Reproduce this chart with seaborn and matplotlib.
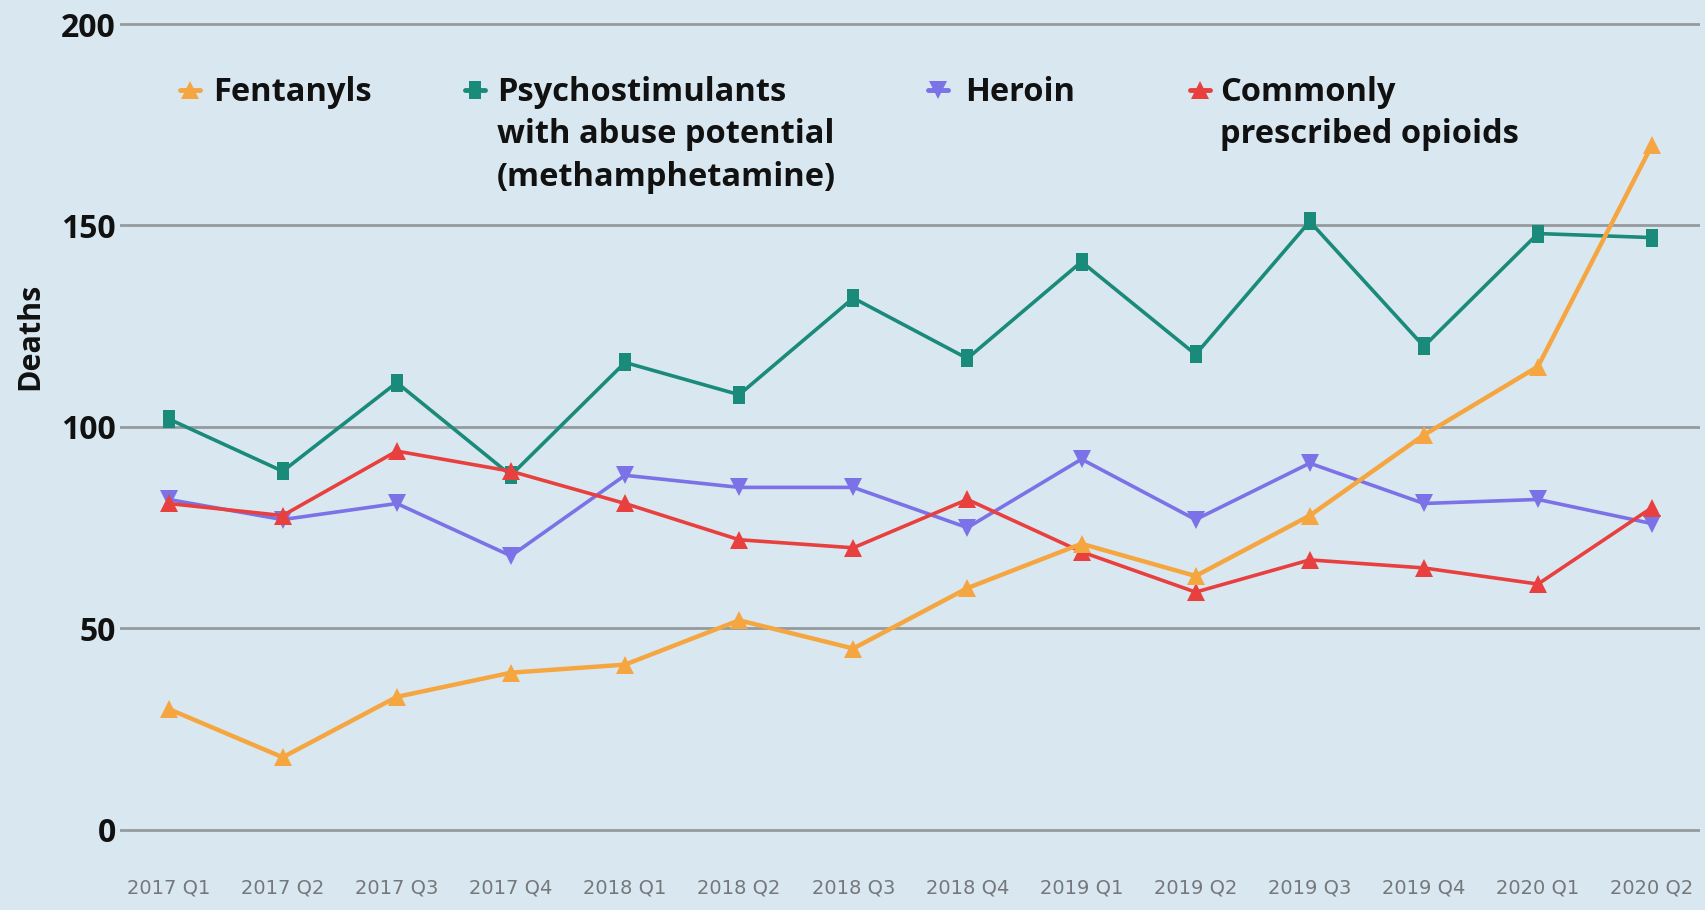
import pandas as pd
import seaborn as sns
import matplotlib.pyplot as plt
from matplotlib.lines import Line2D

# quarterly deaths
quarters = ['2017 Q1', '2017 Q2', '2017 Q3', '2017 Q4',
            '2018 Q1', '2018 Q2', '2018 Q3', '2018 Q4',
            '2019 Q1', '2019 Q2', '2019 Q3', '2019 Q4',
            '2020 Q1', '2020 Q2']
fentanyls = [30, 18, 33, 39, 41, 52, 45, 60, 71, 63, 78, 98, 115, 170]
psychostimulants = [102, 89, 111, 88, 116, 108, 132, 117, 141, 118, 151, 120, 148, 147]
heroin = [82, 77, 81, 68, 88, 85, 85, 75, 92, 77, 91, 81, 82, 76]
prescribed = [81, 78, 94, 89, 81, 72, 70, 82, 69, 59, 67, 65, 61, 80]

names = ['Fentanyls',
         'Psychostimulants\nwith abuse potential\n(methamphetamine)',
         'Heroin',
         'Commonly\nprescribed opioids']
series = [fentanyls, psychostimulants, heroin, prescribed]
colors = ['#f5a641', '#1a8a7b', '#7a72e6', '#e8403f']
# tall narrow box for the psychostimulants marker
tall_box = [(-0.32, -0.5), (0.32, -0.5), (0.32, 0.5), (-0.32, 0.5), (-0.32, -0.5)]
markers = ['^', tall_box, 'v', '^']

df = pd.concat([pd.DataFrame({'quarter': quarters, 'deaths': vals, 'series': n})
                for n, vals in zip(names, series)], ignore_index=True)

bg = '#d9e8f0'
sns.set_theme(style='white')
plt.rcParams['font.family'] = ['Open Sans', 'DejaVu Sans']

fig = plt.figure(figsize=(17.06, 9.10), dpi=100, facecolor=bg)
ax = fig.add_axes([0.0703, 0.0527, 0.9262, 0.943])
ax.set_facecolor(bg)

# draw fentanyls last so it sits on top
order = [names[1], names[2], names[3], names[0]]
sns.lineplot(data=df, x='quarter', y='deaths', hue='series', style='series',
             hue_order=order, style_order=order,
             palette=dict(zip(names, colors)), markers=dict(zip(names, markers)),
             dashes=False, sort=False, linewidth=2.6, markersize=13,
             markeredgewidth=0, legend=False, ax=ax)
# the fentanyls line is a bit heavier in the original
ax.lines[-1].set_linewidth(3.2)

ax.set_ylim(-8, 205)
ax.set_xlim(-0.426, 13.42)
ax.set_yticks([0, 50, 100, 150, 200])
ax.grid(axis='y', color='#959a9e', linewidth=2)
ax.grid(axis='x', visible=False)
for s in ax.spines.values():
    s.set_visible(False)

ax.tick_params(axis='y', length=0, pad=3, labelsize=23)
for t in ax.get_yticklabels():
    t.set_fontweight('bold')
    t.set_color('#111111')
ax.tick_params(axis='x', length=0, pad=12)
ax.set_xticks(range(len(quarters)))
ax.set_xticklabels(quarters, fontsize=14, color='#74787c', family='DejaVu Sans')

ax.set_xlabel('')
ax.set_ylabel('Deaths', fontsize=22, fontweight='bold', color='#111111')
ax.yaxis.set_label_coords(-0.047, 0.612)

# legend drawn by hand so the marker lines up with the first text line
leg_marker_x = [190, 475, 938, 1200]
leg_text_x = [213, 497, 965, 1220]
leg_y = 90
for n, c, m, mx, tx in zip(names, colors, markers, leg_marker_x, leg_text_x):
    fig.add_artist(Line2D([(mx - 10) / 1706, (mx + 10) / 1706],
                          [1 - leg_y / 910] * 2, color=c, linewidth=3.5,
                          transform=fig.transFigure))
    fig.add_artist(Line2D([mx / 1706], [1 - leg_y / 910], color=c, marker=m,
                          markersize=13, markeredgewidth=0, linestyle='none',
                          transform=fig.transFigure))
    fig.text(tx / 1706, 1 - (leg_y - 14) / 910, n, fontsize=23.5, fontweight='bold',
             color='#111111', va='top', ha='left', linespacing=1.37)

fig.savefig('out.png', dpi=100, facecolor=bg)
